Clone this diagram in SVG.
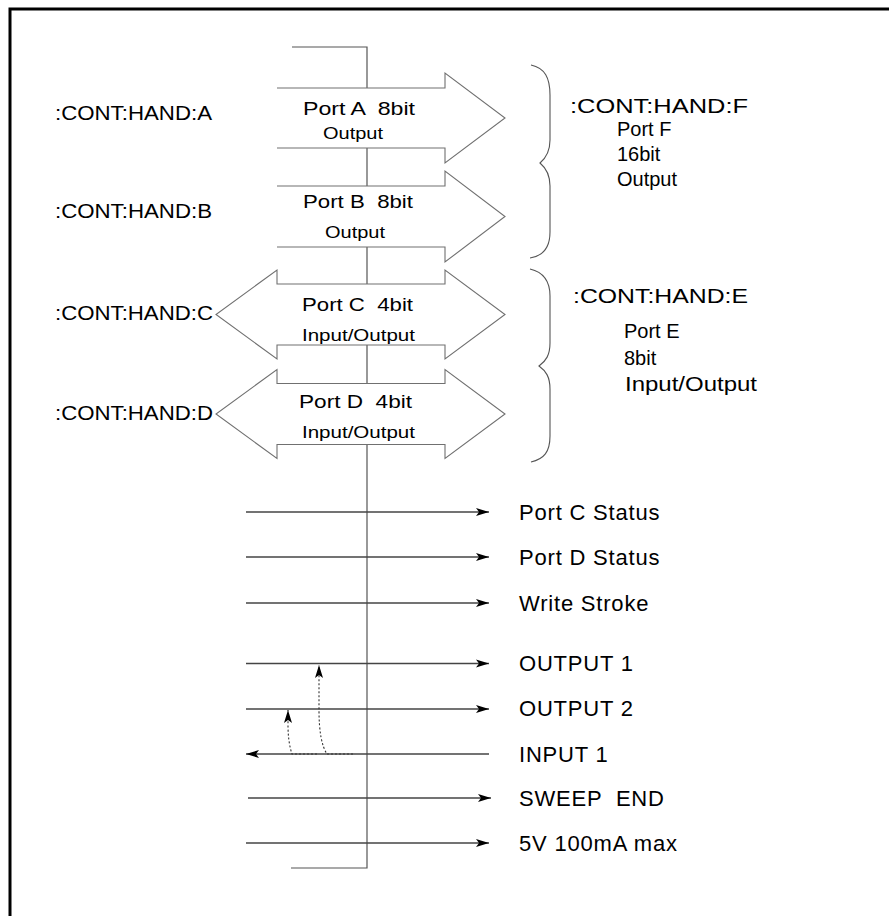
<svg xmlns="http://www.w3.org/2000/svg" width="889" height="916" viewBox="0 0 889 916">
<style>
text{font-family:"Liberation Sans",Arial,sans-serif;fill:#000}
.lbl{font-size:20px}
.in{font-size:19px}
.sub{font-size:17px}
.sig{font-size:22px;letter-spacing:0.8px;white-space:pre}
.shape{fill:none;stroke:#707070;stroke-width:1.1}
.bus{fill:none;stroke:#555;stroke-width:1.2}
.line{fill:none;stroke:#444;stroke-width:1.3}
.dot{fill:none;stroke:#333;stroke-width:1.1;stroke-dasharray:2 2}
.brace{fill:none;stroke:#555;stroke-width:1.1}
</style>
<defs>
<marker id="ah" viewBox="0 0 14 10" refX="13" refY="5" markerWidth="14" markerHeight="10" markerUnits="userSpaceOnUse" orient="auto">
<path d="M0,1 L13,5 L0,9 L3,5 Z" fill="#000"/>
</marker>
</defs>
<rect width="889" height="916" fill="#fff"/>
<g id="frame">
<path d="M889,9 L10,9 L10,916" fill="none" stroke="#000" stroke-width="3"/>
</g>
<g id="connectors">
<path class="bus" d="M292,47 H367 V88 M367,148 V186 M367,247 V284 M367,345 V383.5 M367,444.5 V868 H291"/>
<path class="line" d="M246,512 H489" marker-end="url(#ah)"/>
<path class="line" d="M246,557 H489" marker-end="url(#ah)"/>
<path class="line" d="M246,603 H489" marker-end="url(#ah)"/>
<path class="line" d="M246,663.5 H489" marker-end="url(#ah)"/>
<path class="line" d="M246,709 H489" marker-end="url(#ah)"/>
<path class="line" d="M489,754 H246" marker-end="url(#ah)"/>
<path class="line" d="M248,798 H491" marker-end="url(#ah)"/>
<path class="line" d="M246,843 H489" marker-end="url(#ah)"/>
<path class="dot" d="M353,754 H327 Q319,742 319,710 V665" marker-end="url(#ah)"/>
<path class="dot" d="M317,754 H292 Q288,742 288,725 V710" marker-end="url(#ah)"/>
</g>
<g id="portA">
<path class="shape" d="M277,88 H445 V73 L505,118 L445,163 V148 H277"/>
<text class="in" x="303" y="115" textLength="112" lengthAdjust="spacingAndGlyphs" xml:space="preserve">Port A  8bit</text>
<text class="sub" x="323" y="139" textLength="60" lengthAdjust="spacingAndGlyphs">Output</text>
</g>
<g id="portB">
<path class="shape" d="M277,186 H445 V171 L505,216.5 L445,262 V247 H277"/>
<text class="in" x="303" y="208" textLength="110" lengthAdjust="spacingAndGlyphs" xml:space="preserve">Port B  8bit</text>
<text class="sub" x="325" y="238" textLength="60" lengthAdjust="spacingAndGlyphs">Output</text>
</g>
<g id="portC">
<path class="shape" d="M277,284 H445 V270 L505,314.5 L445,359 V345 H277 V359 L216,314.5 L277,270 Z"/>
<text class="in" x="302" y="311" textLength="111" lengthAdjust="spacingAndGlyphs" xml:space="preserve">Port C  4bit</text>
<text class="sub" x="302" y="341" textLength="113" lengthAdjust="spacingAndGlyphs">Input/Output</text>
</g>
<g id="portD">
<path class="shape" d="M277,383.5 H445 V369.5 L505,414 L445,458.5 V444.5 H277 V458.5 L216,414 L277,369.5 Z"/>
<text class="in" x="299" y="408" textLength="113" lengthAdjust="spacingAndGlyphs" xml:space="preserve">Port D  4bit</text>
<text class="sub" x="302" y="438" textLength="113" lengthAdjust="spacingAndGlyphs">Input/Output</text>
</g>
<g id="labelsLeft">
<text class="lbl" x="55" y="120" textLength="157" lengthAdjust="spacingAndGlyphs">:CONT:HAND:A</text>
<text class="lbl" x="55" y="218" textLength="157" lengthAdjust="spacingAndGlyphs">:CONT:HAND:B</text>
<text class="lbl" x="55" y="320" textLength="158" lengthAdjust="spacingAndGlyphs">:CONT:HAND:C</text>
<text class="lbl" x="55" y="420" textLength="158" lengthAdjust="spacingAndGlyphs">:CONT:HAND:D</text>
</g>
<g id="portF">
<path class="brace" d="M531,65 C545,68 550,78 550,95 V140 C550,152 546,158 540,163 C546,168 550,174 550,186 V232 C550,248 543,256 530,258"/>
<text class="lbl" x="570" y="113" textLength="178" lengthAdjust="spacingAndGlyphs">:CONT:HAND:F</text>
<text class="lbl" x="617" y="136">Port F</text>
<text class="lbl" x="617" y="161">16bit</text>
<text class="lbl" x="617" y="186">Output</text>
</g>
<g id="portE">
<path class="brace" d="M530,269 C543,272 550,280 550,296 V343 C550,355 546,361 539,366 C546,371 550,377 550,389 V436 C550,452 544,459 531,462"/>
<text class="lbl" x="573" y="303" textLength="175" lengthAdjust="spacingAndGlyphs">:CONT:HAND:E</text>
<text class="lbl" x="624" y="338">Port E</text>
<text class="lbl" x="624" y="365">8bit</text>
<text class="lbl" x="625" y="391" textLength="132" lengthAdjust="spacingAndGlyphs">Input/Output</text>
</g>
<g id="signals">
<text class="sig" x="519" y="520">Port C Status</text>
<text class="sig" x="519" y="565">Port D Status</text>
<text class="sig" x="519" y="611">Write Stroke</text>
<text class="sig" x="519" y="671">OUTPUT 1</text>
<text class="sig" x="519" y="716">OUTPUT 2</text>
<text class="sig" x="519" y="762">INPUT 1</text>
<text class="sig" x="519" y="806">SWEEP  END</text>
<text class="sig" x="519" y="851">5V 100mA max</text>
</g>
</svg>
